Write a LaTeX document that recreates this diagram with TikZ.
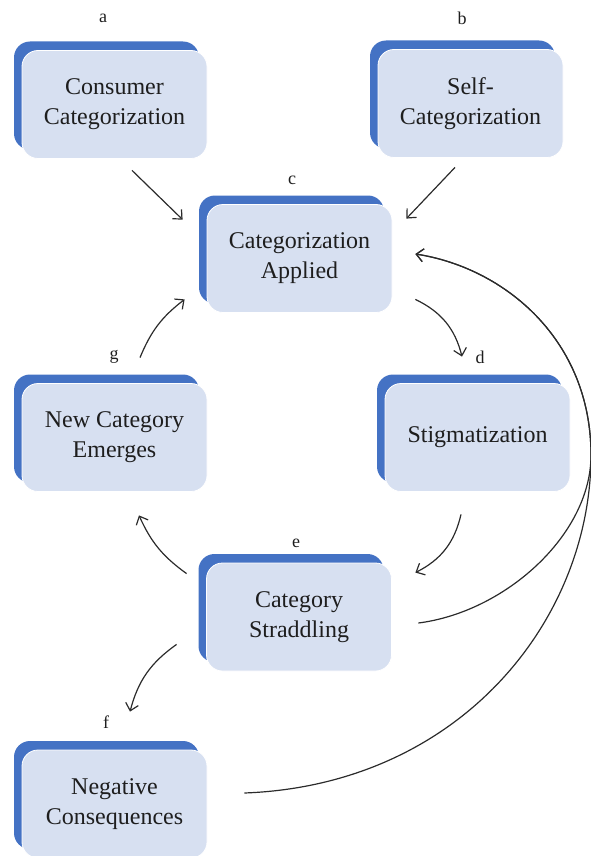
\documentclass[tikz,border=0pt]{standalone}
\usepackage{fontspec}
\setmainfont{Liberation Serif}
\usetikzlibrary{shadows,arrows.meta}
\definecolor{boxfill}{HTML}{D7E0F1}
\definecolor{boxblue}{HTML}{4472C4}
\definecolor{arrowgray}{HTML}{2B2B2B}
\definecolor{txt}{HTML}{1E1E1E}
\begin{document}
\begin{tikzpicture}[x=1pt,y=-1pt,
  catbox/.style={rectangle, rounded corners=16pt, fill=boxfill, draw=white, line width=0.8pt,
    minimum width=185pt, minimum height=108pt, align=center, inner sep=0pt, text=txt,
    font=\fontsize{24}{30}\selectfont,
    general shadow={fill=boxblue, shadow xshift=-8pt, shadow yshift=9pt}},
  lbl/.style={font=\fontsize{18}{20}\selectfont, inner sep=0pt, text=txt},
  conn/.style={draw=arrowgray, line width=1.2pt, -{Straight Barb[length=7pt,width=13pt]}}]
\useasboundingbox (0,0) rectangle (590,856);

\node[catbox] (a) at (114.5,104.5) {Consumer\\Categorization};
\node[catbox] (b) at (470.5,103.5) {Self-\\Categorization};
\node[catbox] (c) at (299.5,258.5) {Categorization\\Applied};
\node[catbox] (d) at (477.5,437.5) {Stigmatization};
\node[catbox] (g) at (114.5,437.5) {New Category\\Emerges};
\node[catbox] (e) at (299,617) {Category\\Straddling};
\node[catbox] (f) at (114.5,804) {Negative\\Consequences};

\node[lbl] (la) at (103,18) {a};
\node[lbl] (lb) at (462,18) {b};
\node[lbl] (lc) at (292,180) {c};
\node[lbl] (ld) at (480,357) {d};
\node[lbl] (lg) at (114,357) {g};
\node[lbl] (le) at (296,543) {e};
\node[lbl] (lf) at (106,722) {f};

\draw[conn] ([shift={(17.5,11.5)}]a.south) -- ([shift={(-24,15.5)}]c.north west);
\draw[conn] ([shift={(-15.5,9.5)}]b.south) -- ([shift={(14,14.5)}]c.north east);
\draw[conn] ([shift={(23,-13.5)}]c.south east) to[bend left=25] ([shift={(-15.5,-26.5)}]d.north);
\draw[conn] ([shift={(-16.5,22.5)}]d.south) to[bend left=25] ([shift={(23.5,10)}]e.north east);
\draw[conn] ([shift={(-19.5,11)}]e.north west) to[bend left=15] ([shift={(24.5,23.5)}]g.south);
\draw[conn] ([shift={(25.5,-25.5)}]g.north) to[bend left=15] ([shift={(-22,-13.5)}]c.south west);
\draw[conn] ([shift={(-29.5,-27)}]e.south west) to[bend right=20] ([shift={(15.5,-38)}]f.north);

\coordinate (J) at (591,455);
\draw[conn] ([shift={(26.5,6)}]e.east) .. controls (505,612) and (591,535) .. (J)
  .. controls (591,340) and (505,268) .. ([shift={(23,-4.5)}]c.east);
\draw[conn] ([shift={(37,-11)}]f.east) .. controls (460,785) and (591,620) .. (J)
  .. controls (591,340) and (505,268) .. ([shift={(23,-4.5)}]c.east);
\end{tikzpicture}
\end{document}
